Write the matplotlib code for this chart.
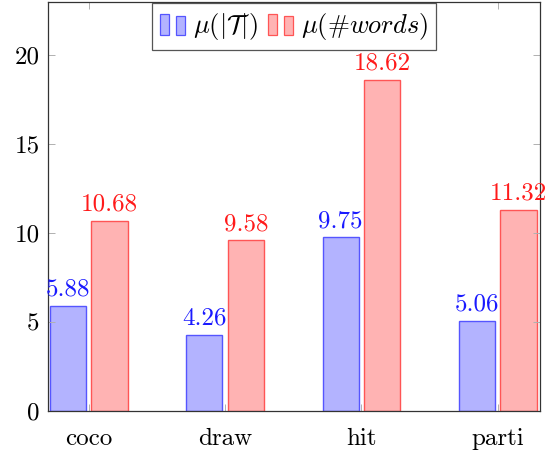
import numpy as np
import matplotlib
matplotlib.use('Agg')
import matplotlib.pyplot as plt
from matplotlib.patches import Rectangle
from matplotlib.legend_handler import HandlerBase

categories = ['coco', 'draw', 'hit', 'parti']
mean_tokens = [5.88, 4.26, 9.75, 5.06]
mean_words = [10.68, 9.58, 18.62, 11.32]
yticks = [0, 5, 10, 15, 20]

plt.rcParams['font.family'] = 'serif'
plt.rcParams['font.serif'] = ['cmr10', 'DejaVu Serif']
plt.rcParams['mathtext.fontset'] = 'cm'
plt.rcParams['axes.formatter.use_mathtext'] = True

blue_fill, blue_edge, blue_text = '#b3b3ff', '#5555ff', '#1a1aff'
red_fill, red_edge, red_text = '#ffb3b3', '#ff5555', '#ff1a1a'


class HandlerBarPair(HandlerBase):
    # pgfplots-style ybar legend: two small bars per entry
    def create_artists(self, legend, orig_handle, xdescent, ydescent,
                       width, height, fontsize, trans):
        fc, ec = orig_handle
        bw = width * 0.34
        out = []
        for i in range(2):
            r = Rectangle((-xdescent + i * width * 0.62, -ydescent - height * 0.15),
                          bw, height * (1.25 - 0.12 * i),
                          fc=fc, ec=ec, lw=0.9, transform=trans)
            out.append(r)
        return out


fig = plt.figure(figsize=(5.5, 4.54), dpi=100)
ax = fig.add_axes([0.087, 0.095, 0.895, 0.901])

x = np.arange(len(categories))
w = 0.265
off = 0.152
ax.bar(x - off, mean_tokens, w, color=blue_fill, edgecolor=blue_edge, linewidth=1.0)
ax.bar(x + off, mean_words, w, color=red_fill, edgecolor=red_edge, linewidth=1.0)

for xi, v in zip(x, mean_tokens):
    ax.text(xi - off, v + 0.3, f'{v:.2f}', ha='center', va='bottom',
            color=blue_text, fontsize=18)
for xi, v in zip(x, mean_words):
    ax.text(xi + off, v + 0.3, f'{v:.2f}', ha='center', va='bottom',
            color=red_text, fontsize=18)

ax.set_xlim(-0.3, 3.31)
ax.set_ylim(0, 23)
ax.set_xticks(x)
ax.set_xticklabels(categories, fontsize=18)
ax.set_yticks(yticks)
ax.set_yticklabels([str(t) for t in yticks], fontsize=18)
ax.tick_params(direction='in', length=5, color='#b0b0b0', width=0.7,
               top=True, right=True)
ax.tick_params(axis='x', pad=12)
ax.tick_params(axis='y', pad=6)
for s in ax.spines.values():
    s.set_color('#333333')
    s.set_linewidth(0.9)

leg = ax.legend([(blue_fill, blue_edge), (red_fill, red_edge)],
                [r'$\mu(|\mathcal{T}|)$', r'$\mu($#$words)$'],
                handler_map={tuple: HandlerBarPair()},
                loc='upper center', bbox_to_anchor=(0.5, 1.0), ncol=2,
                fontsize=19, frameon=True, fancybox=False, framealpha=1,
                edgecolor='#555555', handlelength=1.0, handleheight=0.6,
                handletextpad=0.25, columnspacing=0.4, borderpad=0.3,
                borderaxespad=0.05)
leg.get_frame().set_linewidth(0.9)

fig.savefig('out.png', dpi=100)
